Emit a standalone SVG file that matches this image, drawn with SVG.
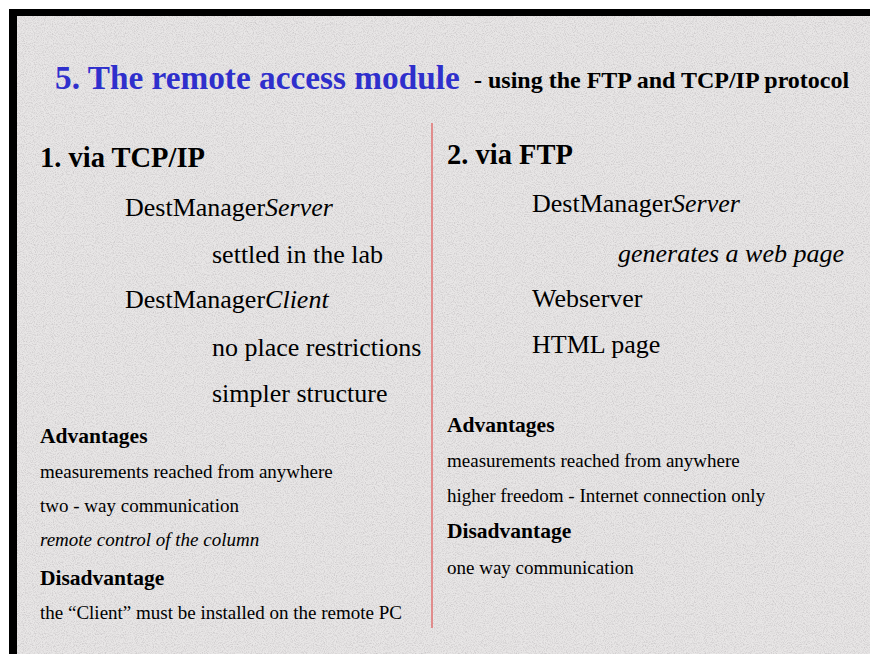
<svg xmlns="http://www.w3.org/2000/svg" width="870" height="654" viewBox="0 0 870 654">
  <defs>
    <filter id="grain" x="0" y="0" width="100%" height="100%">
      <feTurbulence type="fractalNoise" baseFrequency="0.9" numOctaves="2" seed="7" result="n"/>
      <feColorMatrix in="n" type="matrix" values="0 0 0 0 0.55  0 0 0 0 0.53  0 0 0 0 0.54  1.8 0 0 0 -0.75"/>
    </filter>
  </defs>
  <style>
    .t { font-family: 'Liberation Serif', Tinos, 'Times New Roman', serif; fill: #000; }
    .title { font-size: 33.3px; font-weight: bold; fill: #2f2fcc; }
    .sub { font-size: 24px; font-weight: bold; }
    .head { font-size: 28.5px; font-weight: bold; }
    .big { font-size: 26px; }
    .bold { font-size: 21.5px; font-weight: bold; }
    .small { font-size: 19px; }
    .it { font-style: italic; }
  </style>
  <rect x="0" y="0" width="870" height="654" fill="#ffffff"/>
  <rect x="9" y="9" width="861" height="645" fill="#000000"/>
  <rect x="17" y="16" width="853" height="638" fill="#e8e6e6"/>
  <rect x="17" y="16" width="853" height="638" filter="url(#grain)"/>

  <g id="title" font-family="Liberation Serif, serif">
    <text class="t title" x="55" y="89">5. The remote access module</text>
    <text class="t sub" x="474" y="88">- using the FTP and TCP/IP protocol</text>
  </g>

  <line id="divider" x1="432" y1="123" x2="432" y2="628" stroke="#e07070" stroke-width="1.5"/>

  <g id="left-column" font-family="Liberation Serif, serif">
    <text class="t head" x="40" y="167">1. via TCP/IP</text>
    <text class="t big" x="125" y="216">DestManager<tspan class="it">Server</tspan></text>
    <text class="t big" x="212" y="263">settled in the lab</text>
    <text class="t big" x="125" y="308">DestManager<tspan class="it">Client</tspan></text>
    <text class="t big" x="212" y="356">no place restrictions</text>
    <text class="t big" x="212" y="402">simpler structure</text>
    <text class="t bold" x="40" y="443">Advantages</text>
    <text class="t small" x="40" y="478">measurements reached from anywhere</text>
    <text class="t small" x="40" y="512">two - way communication</text>
    <text class="t small it" x="40" y="546">remote control of the column</text>
    <text class="t bold" x="40" y="585">Disadvantage</text>
    <text class="t small" x="40" y="619">the “Client” must be installed on the remote PC</text>
  </g>

  <g id="right-column" font-family="Liberation Serif, serif">
    <text class="t head" x="447" y="164">2. via FTP</text>
    <text class="t big" x="532" y="212">DestManager<tspan class="it">Server</tspan></text>
    <text class="t big it" x="618" y="262">generates a web page</text>
    <text class="t big" x="532" y="307">Webserver</text>
    <text class="t big" x="532" y="353">HTML page</text>
    <text class="t bold" x="447" y="432">Advantages</text>
    <text class="t small" x="447" y="467">measurements reached from anywhere</text>
    <text class="t small" x="447" y="502">higher freedom - Internet connection only</text>
    <text class="t bold" x="447" y="538">Disadvantage</text>
    <text class="t small" x="447" y="574">one way communication</text>
  </g>
</svg>
